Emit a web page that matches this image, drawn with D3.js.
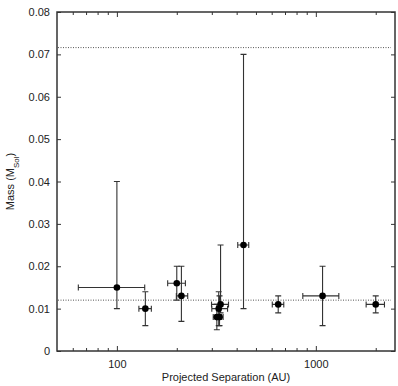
<!DOCTYPE html>
<html>
<head>
<meta charset="utf-8">
<script src="https://cdn.jsdelivr.net/npm/d3@7"></script>
<style>
  body { margin: 0; background: #fff; }
  text { font-family: "Liberation Sans", Arial, sans-serif; fill: #222; }
</style>
</head>
<body>
<script>
// data
var sep    = [100, 139, 200, 211, 332, 325, 318, 328, 433, 647, 1081, 2000];
var sepLo  = [64, 129, 180, 199, 299, 300, 305, 312, 405, 604, 860, 1790];
var sepHi  = [138, 149, 221, 227, 364, 360, 335, 342, 460, 690, 1305, 2213];
var mass   = [0.015, 0.010, 0.016, 0.013, 0.011, 0.010, 0.008, 0.008, 0.025, 0.011, 0.013, 0.011];
var massLo = [0.010, 0.006, 0.012, 0.007, 0.009, 0.006, 0.005, 0.006, 0.010, 0.009, 0.006, 0.009];
var massHi = [0.040, 0.014, 0.020, 0.020, 0.025, 0.014, 0.011, 0.013, 0.070, 0.013, 0.020, 0.013];
var limits = [0.0716, 0.012];
var xMajor = [100, 1000];
var xMinor = [60, 70, 80, 90, 200, 300, 400, 500, 600, 700, 800, 900, 2000];
var yTicks = [0, 0.01, 0.02, 0.03, 0.04, 0.05, 0.06, 0.07, 0.08];

var svg = d3.select("body")
    .append("svg")
    .attr("width", 398)
    .attr("height", 386)
    .style("display", "block");
var margin = {top: 12, right: 3, bottom: 35, left: 57};
var width = 398 - margin.left - margin.right;
var height = 386 - margin.top - margin.bottom;

var g = svg.append("g").attr("transform", "translate(" + margin.left + "," + margin.top + ")");

var x = d3.scaleLog().domain([50, 2500]).range([0, width]);
var y = d3.scaleLinear().domain([0, 0.08]).range([height, 0]);

var fmt = function (d) { return d === 0 ? "0" : d3.format(".2f")(d); };

// axes, ticks pointing inward
function style(sel) {
    sel.select(".domain").remove();
    sel.selectAll("line").attr("stroke", "#333");
    sel.selectAll("text").style("font-size", "11px").attr("fill", "#222");
}
g.append("g").attr("transform", "translate(0," + height + ")")
    .call(d3.axisBottom(x).tickValues(xMajor).tickFormat(d3.format("d")).tickSize(-5).tickPadding(9)).call(style);
g.append("g").attr("transform", "translate(0," + height + ")")
    .call(d3.axisBottom(x).tickValues(xMinor).tickFormat("").tickSize(-3)).call(style);
g.append("g")
    .call(d3.axisTop(x).tickValues(xMajor).tickFormat("").tickSize(-5)).call(style);
g.append("g")
    .call(d3.axisTop(x).tickValues(xMinor).tickFormat("").tickSize(-3)).call(style);
g.append("g")
    .call(d3.axisLeft(y).tickValues(yTicks).tickFormat(fmt).tickSize(-4).tickPadding(7)).call(style);
g.append("g").attr("transform", "translate(" + width + ",0)")
    .call(d3.axisRight(y).tickValues(yTicks).tickFormat("").tickSize(-4)).call(style);

// frame
g.append("rect")
    .attr("width", width)
    .attr("height", height)
    .attr("fill", "none")
    .attr("stroke", "#333")
    .attr("stroke-width", 1.5);

// limit lines
g.selectAll(".limit")
    .data(limits)
    .enter()
    .append("line")
    .attr("x1", 1)
    .attr("x2", width - 4)
    .attr("y1", function (d) { return y(d); })
    .attr("y2", function (d) { return y(d); })
    .attr("stroke", "#555")
    .attr("stroke-width", 1)
    .attr("stroke-dasharray", "1,1.5");

// error bars
var idx = d3.range(sep.length);
var cap = 3;
var eb = g.append("g").attr("stroke", "#333").attr("stroke-width", 1.1).attr("fill", "none");
idx.forEach(function (i) {
    var cx = x(sep[i]), cy = y(mass[i]);
    var x0 = x(sepLo[i]), x1 = x(sepHi[i]);
    var y0 = y(massLo[i]), y1 = y(massHi[i]);
    eb.append("path").attr("d",
        "M" + cx + "," + y0 + "V" + y1 +
        "M" + (cx - cap) + "," + y0 + "H" + (cx + cap) +
        "M" + (cx - cap) + "," + y1 + "H" + (cx + cap) +
        "M" + x0 + "," + cy + "H" + x1 +
        "M" + x0 + "," + (cy - cap) + "V" + (cy + cap) +
        "M" + x1 + "," + (cy - cap) + "V" + (cy + cap));
});

// points
g.selectAll(".pt")
    .data(idx)
    .enter()
    .append("circle")
    .attr("cx", function (i) { return x(sep[i]); })
    .attr("cy", function (i) { return y(mass[i]); })
    .attr("r", 3.3)
    .attr("fill", "#000");

// axis titles
svg.append("text")
    .attr("x", margin.left + width / 2)
    .attr("y", 381)
    .attr("text-anchor", "middle")
    .style("font-size", "11px")
    .text("Projected Separation (AU)");

var yl = svg.append("text")
    .attr("transform", "translate(14," + (margin.top + height / 2) + ") rotate(-90)")
    .attr("text-anchor", "middle")
    .style("font-size", "11px");
yl.append("tspan").text("Mass (M");
yl.append("tspan").attr("baseline-shift", "sub").style("font-size", "8px").text("Sol");
yl.append("tspan").text(")");
</script>
</body>
</html>
